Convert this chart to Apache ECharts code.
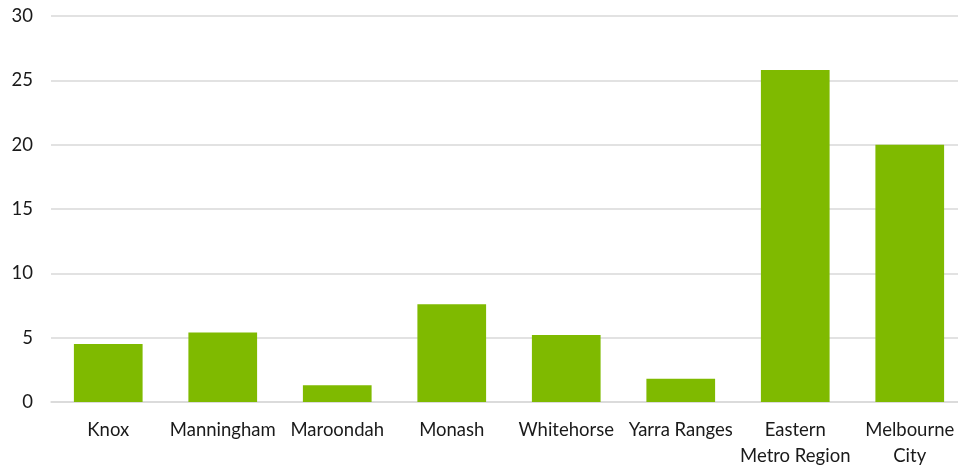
<!DOCTYPE html>
<html><head><meta charset="utf-8">
<script src="https://cdn.jsdelivr.net/npm/echarts@6/dist/echarts.min.js"></script>
<style>html,body{margin:0;padding:0;background:#fff}#c{width:958px;height:466px}</style>
</head><body><div id="c"></div>
<script>
const categories = ['Knox', 'Manningham', 'Maroondah', 'Monash', 'Whitehorse', 'Yarra Ranges', 'Eastern\nMetro Region', 'Melbourne\nCity'];
const values = [4.5, 5.4, 1.3, 7.6, 5.2, 1.8, 25.8, 20.0];
const yTicks = { min: 0, max: 30, interval: 5 };

const chart = echarts.init(document.getElementById('c'), null, { renderer: 'canvas' });
chart.setOption({
  animation: false,
  grid: { left: 51, top: 16, width: 916, height: 386, containLabel: false, outerBoundsMode: 'none' },
  xAxis: {
    type: 'category', data: categories,
    axisLine: { show: true, lineStyle: { color: '#d9d9d9', width: 1.5 } },
    axisTick: { show: false },
    axisLabel: { color: '#1a1a1a', fontFamily: 'Lato', fontSize: 18.5, margin: 15, lineHeight: 26, interval: 0 }
  },
  yAxis: {
    type: 'value', min: yTicks.min, max: yTicks.max, interval: yTicks.interval,
    axisLine: { show: false }, axisTick: { show: false },
    splitLine: { lineStyle: { color: '#d9d9d9', width: 1.5 } },
    axisLabel: { color: '#1a1a1a', fontFamily: 'Lato', fontSize: 18.5, margin: 18 }
  },
  series: [{ type: 'bar', data: values, barWidth: '60%', itemStyle: { color: '#7FBA00' } }]
});
</script></body></html>
